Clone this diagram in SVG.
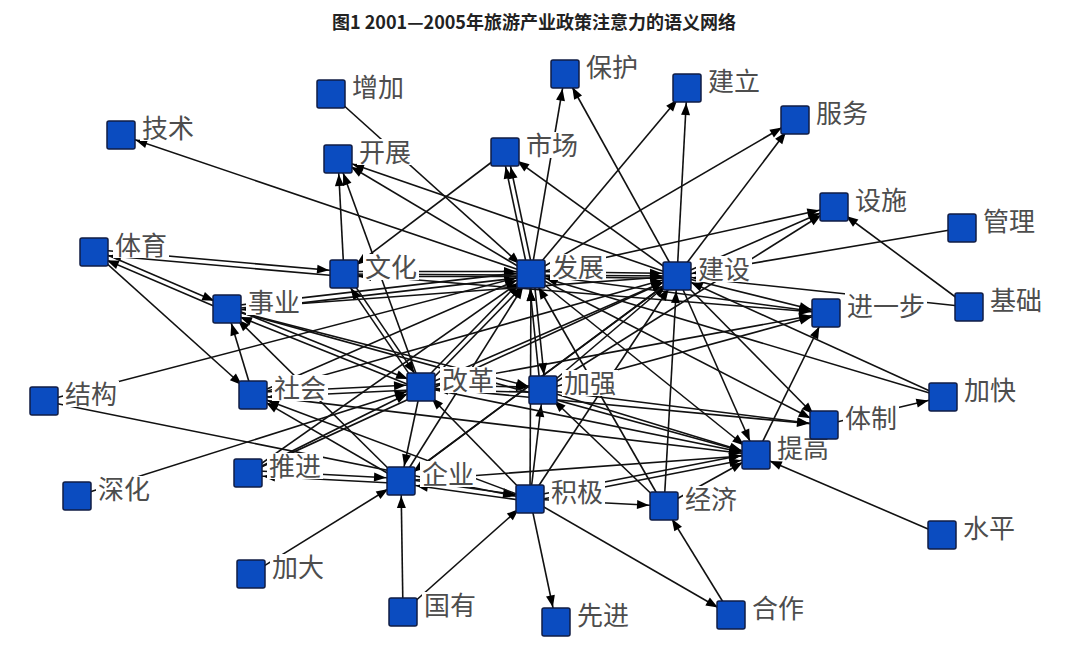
<svg xmlns="http://www.w3.org/2000/svg" width="1072" height="656" viewBox="0 0 1072 656">
<style>
.e{stroke:#111;stroke-width:1.6;fill:none;marker-end:url(#a)}
.nd{fill:#0b4cc0;stroke:#101c44;stroke-width:1.5}
.lb{fill:#fff}
.t{font-family:"Noto Sans CJK SC","Noto Sans CJK JP",sans-serif;font-size:26px;fill:#4d4d4d}
.title{font-family:"Noto Sans CJK SC","Noto Sans CJK JP",sans-serif;font-weight:bold;font-size:18px;fill:#222}
</style>
<defs>
<marker id="a" markerUnits="userSpaceOnUse" markerWidth="12" markerHeight="10" refX="27" refY="5" orient="auto" overflow="visible">
<path d="M0,0.5 L12,5 L0,9.5 z" fill="#000"/>
</marker>
</defs>
<rect width="1072" height="656" fill="#fff"/>
<text class="title" x="534" y="29" text-anchor="middle">图1 2001—2005年旅游产业政策注意力的语义网络</text>
<g id="edges">
<line class="e" x1="331" y1="94" x2="531" y2="274"/>
<line class="e" x1="531" y1="274" x2="121" y2="135"/>
<line class="e" x1="344" y1="274" x2="338" y2="159"/>
<line class="e" x1="421" y1="387" x2="338" y2="159"/>
<line class="e" x1="677" y1="276" x2="338" y2="159"/>
<line class="e" x1="531" y1="274" x2="338" y2="159"/>
<line class="e" x1="528.5" y1="274" x2="502.5" y2="152"/>
<line class="e" x1="533.5" y1="274" x2="507.5" y2="152"/>
<line class="e" x1="677" y1="276" x2="505" y2="152"/>
<line class="e" x1="505" y1="152" x2="344" y2="274"/>
<line class="e" x1="531" y1="274" x2="565" y2="74"/>
<line class="e" x1="677" y1="276" x2="565" y2="74"/>
<line class="e" x1="531" y1="274" x2="687" y2="88"/>
<line class="e" x1="677" y1="276" x2="687" y2="88"/>
<line class="e" x1="531" y1="274" x2="795" y2="120"/>
<line class="e" x1="677" y1="276" x2="795" y2="120"/>
<line class="e" x1="531" y1="274" x2="834" y2="207"/>
<line class="e" x1="677" y1="276" x2="834" y2="207"/>
<line class="e" x1="543" y1="390" x2="834" y2="207"/>
<line class="e" x1="969" y1="307" x2="834" y2="207"/>
<line class="e" x1="962" y1="228" x2="677" y2="276"/>
<line class="e" x1="969" y1="307" x2="677" y2="276"/>
<line class="e" x1="943" y1="397" x2="677" y2="276"/>
<line class="e" x1="943" y1="397" x2="531" y2="274"/>
<line class="e" x1="824" y1="425" x2="943" y2="397"/>
<line class="e" x1="531" y1="274" x2="826" y2="313"/>
<line class="e" x1="677" y1="276" x2="826" y2="313"/>
<line class="e" x1="421" y1="387" x2="826" y2="313"/>
<line class="e" x1="344" y1="274" x2="826" y2="313"/>
<line class="e" x1="756" y1="455" x2="826" y2="313"/>
<line class="e" x1="94" y1="249.5" x2="344" y2="271.5"/>
<line class="e" x1="344" y1="276.5" x2="94" y2="254.5"/>
<line class="e" x1="95" y1="249.7" x2="228" y2="306.7"/>
<line class="e" x1="226" y1="311.3" x2="93" y2="254.3"/>
<line class="e" x1="94" y1="252" x2="253" y2="395"/>
<line class="e" x1="227" y1="306.5" x2="531" y2="271.5"/>
<line class="e" x1="531" y1="276.5" x2="227" y2="311.5"/>
<line class="e" x1="344" y1="271.5" x2="531" y2="271.5"/>
<line class="e" x1="531" y1="276.5" x2="344" y2="276.5"/>
<line class="e" x1="531" y1="271.5" x2="677" y2="273.5"/>
<line class="e" x1="677" y1="278.5" x2="531" y2="276.5"/>
<line class="e" x1="421" y1="384.5" x2="543" y2="387.5"/>
<line class="e" x1="543" y1="392.5" x2="421" y2="389.5"/>
<line class="e" x1="253" y1="392.5" x2="421" y2="384.5"/>
<line class="e" x1="421" y1="389.5" x2="253" y2="397.5"/>
<line class="e" x1="401" y1="478.5" x2="530" y2="496.5"/>
<line class="e" x1="530" y1="501.5" x2="401" y2="483.5"/>
<line class="e" x1="530" y1="499" x2="664" y2="506"/>
<line class="e" x1="731" y1="615" x2="664" y2="506"/>
<line class="e" x1="530" y1="499" x2="731" y2="615"/>
<line class="e" x1="530" y1="499" x2="556" y2="622"/>
<line class="e" x1="403" y1="612" x2="401" y2="481"/>
<line class="e" x1="403" y1="612" x2="530" y2="499"/>
<line class="e" x1="251" y1="574" x2="401" y2="481"/>
<line class="e" x1="248" y1="470.5" x2="401" y2="478.5"/>
<line class="e" x1="401" y1="483.5" x2="248" y2="475.5"/>
<line class="e" x1="77" y1="496" x2="421" y2="387"/>
<line class="e" x1="44" y1="401" x2="531" y2="274"/>
<line class="e" x1="44" y1="401" x2="530" y2="499"/>
<line class="e" x1="421" y1="387" x2="401" y2="481"/>
<line class="e" x1="401" y1="481" x2="253" y2="395"/>
<line class="e" x1="530" y1="499" x2="253" y2="395"/>
<line class="e" x1="253" y1="395" x2="227" y2="309"/>
<line class="e" x1="401" y1="481" x2="227" y2="309"/>
<line class="e" x1="228" y1="306.7" x2="422" y2="384.7"/>
<line class="e" x1="420" y1="389.3" x2="226" y2="311.3"/>
<line class="e" x1="346" y1="272.6" x2="423" y2="385.6"/>
<line class="e" x1="419" y1="388.4" x2="342" y2="275.4"/>
<line class="e" x1="419.2" y1="385.3" x2="529.2" y2="272.3"/>
<line class="e" x1="422.8" y1="388.7" x2="532.8" y2="275.7"/>
<line class="e" x1="540.5" y1="390" x2="528.5" y2="274"/>
<line class="e" x1="533.5" y1="274" x2="545.5" y2="390"/>
<line class="e" x1="530" y1="499" x2="531" y2="274"/>
<line class="e" x1="530" y1="499" x2="543" y2="390"/>
<line class="e" x1="664" y1="506" x2="543" y2="390"/>
<line class="e" x1="664" y1="506" x2="677" y2="276"/>
<line class="e" x1="664" y1="506" x2="531" y2="274"/>
<line class="e" x1="664" y1="506" x2="756" y2="455"/>
<line class="e" x1="530" y1="496.5" x2="756" y2="452.5"/>
<line class="e" x1="530" y1="501.5" x2="756" y2="457.5"/>
<line class="e" x1="401" y1="481" x2="756" y2="455"/>
<line class="e" x1="421" y1="387" x2="756" y2="455"/>
<line class="e" x1="543" y1="390" x2="756" y2="455"/>
<line class="e" x1="531" y1="274" x2="756" y2="455"/>
<line class="e" x1="677" y1="276" x2="756" y2="455"/>
<line class="e" x1="253" y1="395" x2="756" y2="455"/>
<line class="e" x1="227" y1="309" x2="756" y2="455"/>
<line class="e" x1="942" y1="535" x2="756" y2="455"/>
<line class="e" x1="421" y1="387" x2="824" y2="425"/>
<line class="e" x1="543" y1="390" x2="824" y2="425"/>
<line class="e" x1="677" y1="276" x2="824" y2="425"/>
<line class="e" x1="531" y1="274" x2="824" y2="425"/>
<line class="e" x1="401" y1="481" x2="531" y2="274"/>
<line class="e" x1="401" y1="481" x2="677" y2="276"/>
<line class="e" x1="253" y1="395" x2="531" y2="274"/>
<line class="e" x1="253" y1="395" x2="677" y2="276"/>
<line class="e" x1="248" y1="473" x2="531" y2="274"/>
<line class="e" x1="248" y1="473" x2="677" y2="276"/>
<line class="e" x1="248" y1="473" x2="421" y2="387"/>
<line class="e" x1="227" y1="309" x2="677" y2="276"/>
<line class="e" x1="344" y1="274" x2="677" y2="276"/>
<line class="e" x1="421" y1="387" x2="677" y2="276"/>
<line class="e" x1="543" y1="390" x2="677" y2="276"/>
<line class="e" x1="530" y1="499" x2="677" y2="276"/>
<line class="e" x1="530" y1="499" x2="421" y2="387"/>
<line class="e" x1="543" y1="390" x2="826" y2="313"/>
<line class="e" x1="677" y1="276" x2="401" y2="481"/>
<line class="e" x1="227" y1="309" x2="543" y2="390"/>
</g>
<g id="n-zengjia"><rect class="lb" x="350" y="74" width="56" height="26"/><rect class="nd" x="317" y="80" width="28" height="28" rx="2"/><text class="t" x="352" y="97">增加</text></g>
<g id="n-jishu"><rect class="lb" x="140" y="115" width="56" height="26"/><rect class="nd" x="107" y="121" width="28" height="28" rx="2"/><text class="t" x="142" y="138">技术</text></g>
<g id="n-kaizhan"><rect class="lb" x="357" y="139" width="56" height="26"/><rect class="nd" x="324" y="145" width="28" height="28" rx="2"/><text class="t" x="359" y="162">开展</text></g>
<g id="n-shichang"><rect class="lb" x="524" y="132" width="56" height="26"/><rect class="nd" x="491" y="138" width="28" height="28" rx="2"/><text class="t" x="526" y="155">市场</text></g>
<g id="n-baohu"><rect class="lb" x="584" y="54" width="56" height="26"/><rect class="nd" x="551" y="60" width="28" height="28" rx="2"/><text class="t" x="586" y="77">保护</text></g>
<g id="n-jianli"><rect class="lb" x="706" y="68" width="56" height="26"/><rect class="nd" x="673" y="74" width="28" height="28" rx="2"/><text class="t" x="708" y="91">建立</text></g>
<g id="n-fuwu"><rect class="lb" x="814" y="100" width="56" height="26"/><rect class="nd" x="781" y="106" width="28" height="28" rx="2"/><text class="t" x="816" y="123">服务</text></g>
<g id="n-sheshi"><rect class="lb" x="853" y="187" width="56" height="26"/><rect class="nd" x="820" y="193" width="28" height="28" rx="2"/><text class="t" x="855" y="210">设施</text></g>
<g id="n-guanli"><rect class="lb" x="981" y="208" width="56" height="26"/><rect class="nd" x="948" y="214" width="28" height="28" rx="2"/><text class="t" x="983" y="231">管理</text></g>
<g id="n-jichu"><rect class="lb" x="988" y="287" width="56" height="26"/><rect class="nd" x="955" y="293" width="28" height="28" rx="2"/><text class="t" x="990" y="310">基础</text></g>
<g id="n-tiyu"><rect class="lb" x="113" y="232" width="56" height="26"/><rect class="nd" x="80" y="238" width="28" height="28" rx="2"/><text class="t" x="115" y="255">体育</text></g>
<g id="n-wenhua"><rect class="lb" x="363" y="254" width="56" height="26"/><rect class="nd" x="330" y="260" width="28" height="28" rx="2"/><text class="t" x="365" y="277">文化</text></g>
<g id="n-fazhan"><rect class="lb" x="550" y="254" width="56" height="26"/><rect class="nd" x="517" y="260" width="28" height="28" rx="2"/><text class="t" x="552" y="277">发展</text></g>
<g id="n-jianshe"><rect class="lb" x="696" y="256" width="56" height="26"/><rect class="nd" x="663" y="262" width="28" height="28" rx="2"/><text class="t" x="698" y="279">建设</text></g>
<g id="n-shiye"><rect class="lb" x="246" y="289" width="56" height="26"/><rect class="nd" x="213" y="295" width="28" height="28" rx="2"/><text class="t" x="248" y="312">事业</text></g>
<g id="n-jinyibu"><rect class="lb" x="845" y="293" width="82" height="26"/><rect class="nd" x="812" y="299" width="28" height="28" rx="2"/><text class="t" x="847" y="316">进一步</text></g>
<g id="n-jiegou"><rect class="lb" x="63" y="381" width="56" height="26"/><rect class="nd" x="30" y="387" width="28" height="28" rx="2"/><text class="t" x="65" y="404">结构</text></g>
<g id="n-shehui"><rect class="lb" x="272" y="375" width="56" height="26"/><rect class="nd" x="239" y="381" width="28" height="28" rx="2"/><text class="t" x="274" y="398">社会</text></g>
<g id="n-gaige"><rect class="lb" x="440" y="367" width="56" height="26"/><rect class="nd" x="407" y="373" width="28" height="28" rx="2"/><text class="t" x="442" y="390">改革</text></g>
<g id="n-jiaqiang"><rect class="lb" x="562" y="370" width="56" height="26"/><rect class="nd" x="529" y="376" width="28" height="28" rx="2"/><text class="t" x="564" y="393">加强</text></g>
<g id="n-jiakuai"><rect class="lb" x="962" y="377" width="56" height="26"/><rect class="nd" x="929" y="383" width="28" height="28" rx="2"/><text class="t" x="964" y="400">加快</text></g>
<g id="n-tigao"><rect class="lb" x="775" y="435" width="56" height="26"/><rect class="nd" x="742" y="441" width="28" height="28" rx="2"/><text class="t" x="777" y="458">提高</text></g>
<g id="n-tizhi"><rect class="lb" x="843" y="405" width="56" height="26"/><rect class="nd" x="810" y="411" width="28" height="28" rx="2"/><text class="t" x="845" y="428">体制</text></g>
<g id="n-tuijin"><rect class="lb" x="267" y="453" width="56" height="26"/><rect class="nd" x="234" y="459" width="28" height="28" rx="2"/><text class="t" x="269" y="476">推进</text></g>
<g id="n-qiye"><rect class="lb" x="420" y="461" width="56" height="26"/><rect class="nd" x="387" y="467" width="28" height="28" rx="2"/><text class="t" x="422" y="484">企业</text></g>
<g id="n-jiji"><rect class="lb" x="549" y="479" width="56" height="26"/><rect class="nd" x="516" y="485" width="28" height="28" rx="2"/><text class="t" x="551" y="502">积极</text></g>
<g id="n-jingji"><rect class="lb" x="683" y="486" width="56" height="26"/><rect class="nd" x="650" y="492" width="28" height="28" rx="2"/><text class="t" x="685" y="509">经济</text></g>
<g id="n-shenhua"><rect class="lb" x="96" y="476" width="56" height="26"/><rect class="nd" x="63" y="482" width="28" height="28" rx="2"/><text class="t" x="98" y="499">深化</text></g>
<g id="n-shuiping"><rect class="lb" x="961" y="515" width="56" height="26"/><rect class="nd" x="928" y="521" width="28" height="28" rx="2"/><text class="t" x="963" y="538">水平</text></g>
<g id="n-jiada"><rect class="lb" x="270" y="554" width="56" height="26"/><rect class="nd" x="237" y="560" width="28" height="28" rx="2"/><text class="t" x="272" y="577">加大</text></g>
<g id="n-guoyou"><rect class="lb" x="422" y="592" width="56" height="26"/><rect class="nd" x="389" y="598" width="28" height="28" rx="2"/><text class="t" x="424" y="615">国有</text></g>
<g id="n-xianjin"><rect class="lb" x="575" y="602" width="56" height="26"/><rect class="nd" x="542" y="608" width="28" height="28" rx="2"/><text class="t" x="577" y="625">先进</text></g>
<g id="n-hezuo"><rect class="lb" x="750" y="595" width="56" height="26"/><rect class="nd" x="717" y="601" width="28" height="28" rx="2"/><text class="t" x="752" y="618">合作</text></g>
</svg>
